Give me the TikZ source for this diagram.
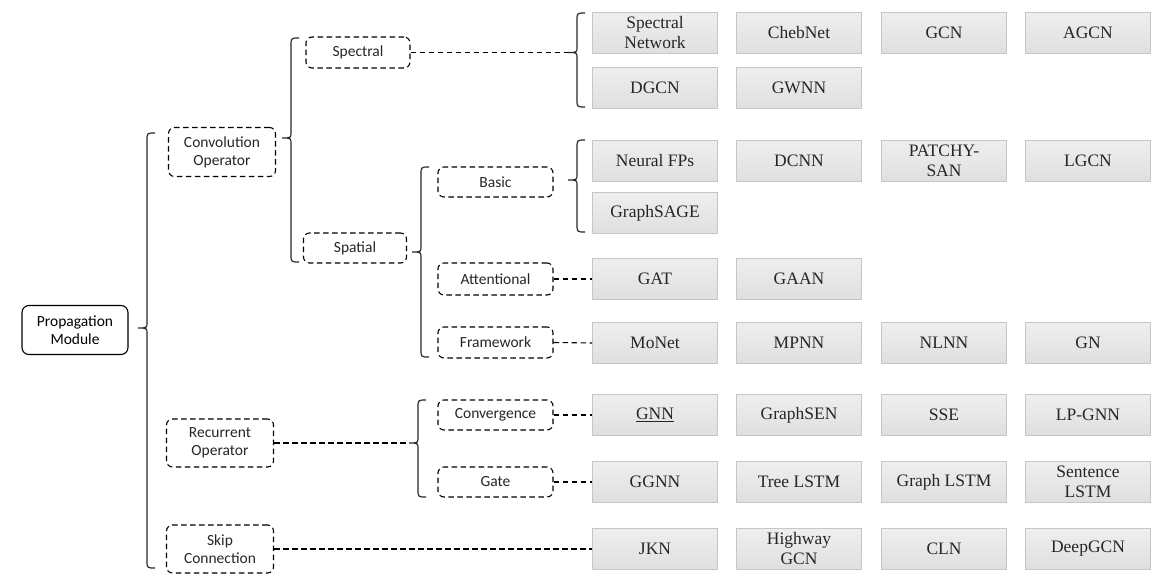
\documentclass[tikz,border=0pt]{standalone}
\usepackage{fontspec}
\setmainfont{Liberation Serif}
\newfontfamily\calibri{Carlito}
\newcommand{\curlybrace}[5]{%
	\draw[brace line] ({#2+8},#3) .. controls (#2,#3) .. (#2,{#3+8}) -- (#2,{#4-6}) .. controls (#2,#4) .. ({#2-9},#4) .. controls (#2,#4) .. (#2,{#4+6}) -- (#2,{#5-8}) .. controls (#2,#5) .. ({#2+8},#5);
	\coordinate (#1) at ({#2-9},#4);}
\begin{document}
\begin{tikzpicture}[x=1pt,y=-1pt,
		brace line/.style={line width=1.2pt,black!85},
		rootbox/.style={draw,line width=1.1pt,rounded corners=7pt,minimum width=106pt,minimum height=49pt,align=center,font=\calibri\fontsize{15.5}{18}\selectfont},
		catbox/.style={draw,dashed,dash pattern=on 5.5pt off 3.5pt,line width=1.1pt,rounded corners=6pt,minimum width=115pt,minimum height=31pt,align=center,inner sep=0pt,text=black!85,font=\calibri\fontsize{15.5}{18}\selectfont},
		methodbox/.style={draw=gray!45,line width=1pt,top color=gray!13,bottom color=gray!25,minimum width=125pt,minimum height=41pt,align=center,inner sep=0pt,text=black!85,font=\fontsize{17.5}{20}\selectfont},
		link/.style={dashed,dash pattern=on 5.5pt off 3.5pt,line width=1.1pt}]
	\useasboundingbox (0,0) rectangle (1161,586);

	\node[rootbox] (prop) at (75,330) {Propagation\\Module};
	\node[catbox,minimum width=107pt,minimum height=49pt] (conv) at (222,152) {Convolution\\Operator};
	\node[catbox,minimum width=107pt,minimum height=48pt] (rec) at (220,443) {Recurrent\\Operator};
	\node[catbox,minimum width=107pt,minimum height=48pt] (skip) at (220,549) {Skip\\Connection};
	\node[catbox,minimum width=104pt] (spectral) at (358,52.5) {Spectral};
	\node[catbox,minimum width=103pt,minimum height=30pt] (spatial) at (355,248) {Spatial};
	\node[catbox,minimum height=30pt] (basic) at (495.5,182) {Basic};
	\node[catbox,minimum height=32pt] (attn) at (495.5,279) {Attentional};
	\node[catbox] (frame) at (495.5,342.5) {Framework};
	\node[catbox,minimum height=30pt] (convg) at (495.5,415) {Convergence};
	\node[catbox,minimum height=30pt] (gate) at (495.5,482) {Gate};

	\node[methodbox] (specnet) at (655,33) {Spectral\\Network};
	\node[methodbox] (chebnet) at (799,33) {ChebNet};
	\node[methodbox] (gcn) at (944,33) {GCN};
	\node[methodbox] (agcn) at (1088,33) {AGCN};
	\node[methodbox] (dgcn) at (655,88) {DGCN};
	\node[methodbox] (gwnn) at (799,88) {GWNN};
	\node[methodbox] (neuralfps) at (655,161) {Neural FPs};
	\node[methodbox] (dcnn) at (799,161) {DCNN};
	\node[methodbox] (patchysan) at (944,161) {PATCHY-\\SAN};
	\node[methodbox] (lgcn) at (1088,161) {LGCN};
	\node[methodbox] (graphsage) at (655,213) {GraphSAGE};
	\node[methodbox] (gat) at (655,279) {GAT};
	\node[methodbox] (gaan) at (799,279) {GAAN};
	\node[methodbox] (monet) at (655,343) {MoNet};
	\node[methodbox] (mpnn) at (799,343) {MPNN};
	\node[methodbox] (nlnn) at (944,343) {NLNN};
	\node[methodbox] (gn) at (1088,343) {GN};
	\node[methodbox] (gnn) at (655,415) {\underline{GNN}};
	\node[methodbox] (graphsen) at (799,415) {GraphSEN};
	\node[methodbox] (sse) at (944,415) {SSE};
	\node[methodbox] (lpgnn) at (1088,415) {LP-GNN};
	\node[methodbox] (ggnn) at (655,482) {GGNN};
	\node[methodbox] (treelstm) at (799,482) {Tree LSTM};
	\node[methodbox] (graphlstm) at (944,482) {Graph LSTM};
	\node[methodbox] (sentlstm) at (1088,482) {Sentence\\LSTM};
	\node[methodbox] (jkn) at (655,549) {JKN};
	\node[methodbox] (highway) at (799,549) {Highway\\GCN};
	\node[methodbox] (cln) at (944,549) {CLN};
	\node[methodbox] (deepgcn) at (1088,549) {DeepGCN};

	\curlybrace{proptip}{147}{133}{328}{568}
	\curlybrace{convtip}{291}{38}{138}{262}
	\curlybrace{spatialtip}{421}{167}{252}{357}
	\curlybrace{rectip}{418}{400}{443}{497}
	\curlybrace{spectip}{577}{13}{52.5}{107}
	\curlybrace{basictip}{577}{140}{180}{232}

	\draw[link] (spectral.east) -- (spectip);
	\draw[link] (rec.east) -- (rectip);
	\draw[link] (attn.east) -- (gat.west);
	\draw[link] (frame.east) -- (monet.west);
	\draw[link] (convg.east) -- (gnn.west);
	\draw[link] (gate.east) -- (ggnn.west);
	\draw[link] (skip.east) -- (jkn.west);
\end{tikzpicture}
\end{document}
